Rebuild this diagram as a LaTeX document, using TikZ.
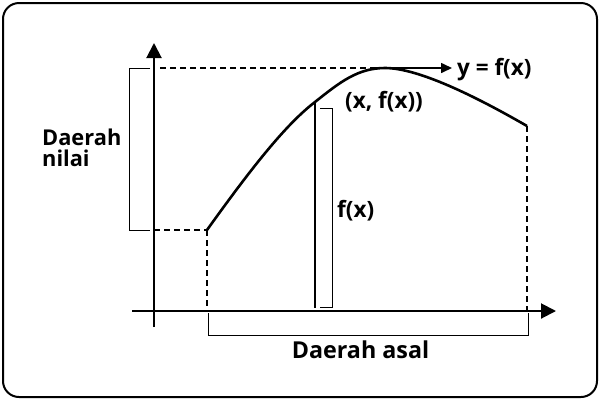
\documentclass[tikz,border=0pt]{standalone}
\usepackage{fontspec}
\setmainfont{Open Sans}
\usetikzlibrary{arrows.meta}
\begin{document}
\begin{tikzpicture}[x=1pt,y=-1pt,
  axis/.style={line width=2pt,-{Triangle[length=15pt,width=15pt]}},
  dsh/.style={line width=1.6pt,dash pattern=on 6pt off 4pt},
  thin/.style={line width=1pt},
  lbl/.style={font=\bfseries\fontsize{22.5}{22}\selectfont,inner sep=0pt},
  side/.style={font=\bfseries\fontsize{21.8}{22}\selectfont,inner sep=0pt},
  big/.style={font=\bfseries\fontsize{23.3}{24}\selectfont,inner sep=0pt}]
\useasboundingbox (0,0) rectangle (600,400);
\draw[line width=2pt,rounded corners=16pt] (3,3) rectangle (597,397);
% key points
\coordinate (yb) at (154,327);
\coordinate (yt) at (154,43);
\coordinate (xl) at (132,311);
\coordinate (xr) at (556,311);
\coordinate (p0) at (207,230);
\coordinate (p1) at (315,102);
\coordinate (pk) at (385,68);
\coordinate (p2) at (527,126);
\coordinate (ya) at (154,230);
\coordinate (yk) at (160,68);
\coordinate (ar) at (452,68);
\coordinate (p0b) at (207,311);
\coordinate (p2b) at (527,311);
\coordinate (p1b) at (315,308);
% axes
\draw[axis] (yb) -- (yt);
\draw[axis] (xl) -- (xr);
% curve
\draw[line width=2.6pt] (p0) .. controls (250,170) and (285,125) .. (p1)
  .. controls (340,82) and (358,68) .. (pk)
  .. controls (418,68) and (475,96) .. (p2);
% dashed guides
\draw[dsh] (yk) -- (pk);
\draw[line width=1.6pt,-{Triangle[length=11pt,width=10pt]}] (pk) -- (ar);
\draw[dsh] (ya) -- (p0);
\draw[dsh] (p0) -- (p0b);
\draw[dsh] (p2) -- (p2b);
% f(x) bar
\draw[line width=2pt] (p1) -- (p1b);
% brackets
\coordinate (lb1) at (150,68);
\coordinate (lb2) at (150,230);
\draw[thin] (lb1) -- (129,68) -- (129,230) -- (lb2);
\coordinate (fb1) at (320,108);
\coordinate (fb2) at (320,307);
\draw[thin] (fb1) -- (332,108) -- (332,307) -- (fb2);
\coordinate (bb1) at (208,313);
\coordinate (bb2) at (528,313);
\draw[thin] (bb1) -- (208,335) -- (528,335) -- (bb2);
% labels
\node[lbl,anchor=base west] (ylab) at (457,75) {y = f(x)};
\node[lbl,anchor=base west] (pt) at (345,108) {(x, f(x))};
\node[lbl,anchor=base west] (fx) at (337,217) {f(x)};
\node[side,anchor=base west] (dn1) at (42,145) {Daerah};
\node[side,anchor=base west] (dn2) at (42,166) {nilai};
\node[big,anchor=base] (da) at (360.5,358) {Daerah asal};
\end{tikzpicture}
\end{document}
